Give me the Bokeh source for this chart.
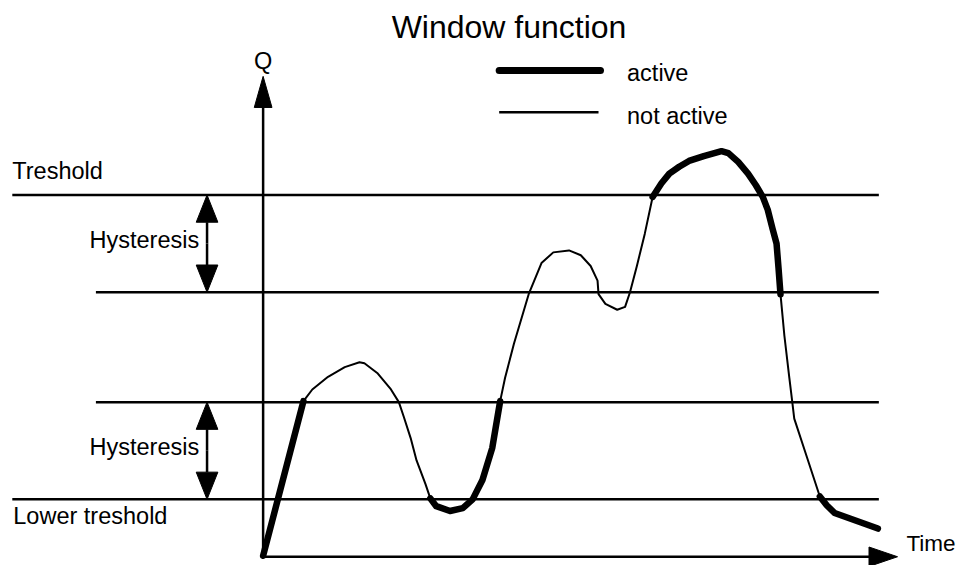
from bokeh.plotting import figure
from bokeh.models import Range1d, Label
from bokeh.embed import file_html
from bokeh.resources import INLINE
import math

# ---- data (time, Q) ----
threshold = 372
threshold_hyst = 272
lower_hyst = 159
lower_threshold = 59

line_start_long = -255
line_start_short = -170
line_end = 626

active_t = [
    [0, 41],
    [170, 176, 190, 203, 213, 223, 233, 241],
    [396, 405, 413, 423, 433, 448, 466, 473, 483, 493, 501, 508, 513, 518, 522, 524, 526],
    [566, 573, 581, 603, 625],
]
active_q = [
    [1, 160],
    [60, 52, 47, 50, 59, 79, 112, 160],
    [370, 384, 394, 401, 407, 412, 417, 415, 406, 394, 382, 370, 357, 337, 322, 297, 270],
    [62, 53, 45, 37, 29],
]
inactive_t = [
    [41, 50, 66, 83, 98, 103, 116, 130, 138, 143, 150, 156, 165, 170],
    [241, 246, 255, 270, 283, 295, 311, 323, 333, 340, 341, 348, 360, 368, 373, 380, 388, 396],
    [526, 530, 535, 538, 540, 553, 566],
]
inactive_q = [
    [160, 172, 185, 195, 200, 199, 189, 172, 159, 144, 122, 99, 75, 60],
    [160, 184, 219, 270, 302, 313, 315, 310, 299, 284, 270, 260, 254, 257, 272, 299, 332, 370],
    [270, 227, 184, 159, 142, 102, 62],
]

q_axis_tip = 494
t_axis_tip = 645
hyst_arrow_t = -57

FONT = "Liberation Sans"

p = figure(width=959, height=565, output_backend="svg", toolbar_location=None,
           x_range=Range1d(-267, 708), y_range=Range1d(-9, 572),
           min_border=0, background_fill_color="white", border_fill_color="white")
p.axis.visible = False
p.grid.visible = False
p.outline_line_color = None

# horizontal level lines
p.segment(x0=[line_start_long, line_start_short, line_start_short, line_start_long],
          y0=[threshold, threshold_hyst, lower_hyst, lower_threshold],
          x1=[line_end] * 4,
          y1=[threshold, threshold_hyst, lower_hyst, lower_threshold],
          line_color="black", line_width=2.5)


def arrow(x0, y0, x1, y1, head_len, head_half, width=2.5):
    dx, dy = x1 - x0, y1 - y0
    L = math.hypot(dx, dy)
    ux, uy = dx / L, dy / L
    bx, by = x1 - ux * head_len, y1 - uy * head_len
    p.segment(x0=[x0], y0=[y0], x1=[bx], y1=[by], line_color="black", line_width=width)
    p.patch(x=[x1, bx - uy * head_half, bx + uy * head_half],
            y=[y1, by + ux * head_half, by - ux * head_half],
            fill_color="black", line_color="black", line_width=1)


# axes
arrow(0, 0, 0, q_axis_tip, 32, 9)
arrow(0, 0, t_axis_tip, 0, 29, 10)

# hysteresis double arrows
for top, bot in [(threshold, threshold_hyst), (lower_hyst, lower_threshold)]:
    mid = (top + bot) / 2
    arrow(hyst_arrow_t, mid, hyst_arrow_t, top, 28, 11)
    arrow(hyst_arrow_t, mid, hyst_arrow_t, bot, 28, 11)

# curve
p.multi_line(xs=inactive_t, ys=inactive_q, line_color="black", line_width=2,
             line_join="round", line_cap="round")
p.multi_line(xs=active_t, ys=active_q, line_color="black", line_width=6.5,
             line_join="round", line_cap="round")

# legend
p.segment(x0=[240], y0=[500], x1=[343], y1=[500], line_color="black", line_width=7, line_cap="round")
p.segment(x0=[240], y0=[457], x1=[341], y1=[457], line_color="black", line_width=2.5)


def lab(x, y, text, size, align="left"):
    p.add_layout(Label(x=x, y=y, text=text, text_font=FONT, text_font_size=f"{size}px",
                       text_align=align, text_baseline="middle", text_color="black"))


lab(250, 545, "Window function", 32, "center")
lab(0, 510, "Q", 23.5, "center")
lab(370, 497, "active", 23.5)
lab(370, 453, "not active", 23.5)
lab(-255, 397, "Treshold", 23.5)
lab(-65, 326, "Hysteresis", 23.5, "right")
lab(-65, 113, "Hysteresis", 23.5, "right")
lab(-254, 42, "Lower treshold", 23.5)
lab(654, 14, "Time", 22.5)

open("out.html", "w").write(file_html(p, INLINE))
